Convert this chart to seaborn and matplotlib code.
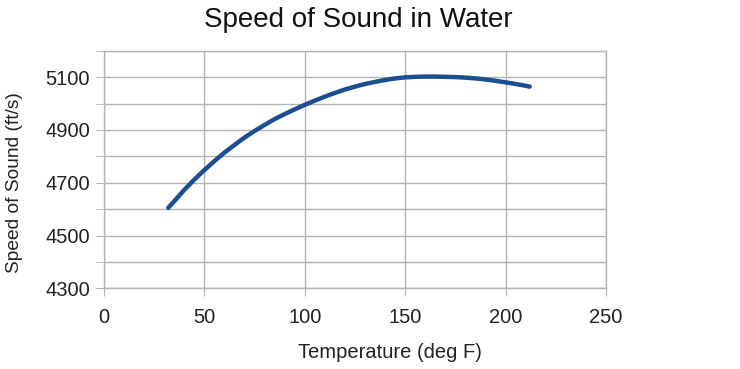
import matplotlib
matplotlib.use("Agg")
import matplotlib.pyplot as plt
import seaborn as sns
import pandas as pd
from matplotlib.ticker import MultipleLocator

temperature_f = [32, 35, 40, 45, 50, 55, 60, 65, 70, 75, 80, 85, 90, 95, 100, 105, 110, 115, 120,
                 125, 130, 135, 140, 145, 150, 155, 160, 165, 170, 175, 180, 185, 190, 195, 200,
                 205, 210, 212]
speed_fts = [4605, 4630, 4673, 4712, 4748, 4782, 4814, 4843, 4871, 4896, 4919, 4941, 4960, 4978, 4995,
             5011, 5026, 5040, 5053, 5064, 5074, 5082, 5089, 5095, 5099, 5101, 5102, 5102, 5101,
             5100, 5098, 5095, 5091, 5086, 5080, 5074, 5067, 5064]

df = pd.DataFrame({"Temperature (deg F)": temperature_f, "Speed of Sound (ft/s)": speed_fts})

sns.set_style("white")
plt.rcParams["font.family"] = ["Liberation Sans", "DejaVu Sans"]

fig = plt.figure(figsize=(7.4, 3.69), dpi=100)
ax = fig.add_axes([104/740, 1 - 288.3/369, (606-104)/740, (288.3-50.7)/369])

sns.lineplot(data=df, x="Temperature (deg F)", y="Speed of Sound (ft/s)", ax=ax,
             color="#1c4f8f", linewidth=3.2, solid_capstyle="round")

ax.set_xlim(0, 250)
ax.set_ylim(4300, 5200)
ax.xaxis.set_major_locator(MultipleLocator(50))
ax.yaxis.set_minor_locator(MultipleLocator(100))
ax.grid(True, which="both", color="#b3b3b3", linewidth=1)
ax.set_axisbelow(True)
for s in ax.spines.values():
    s.set_color("#b3b3b3")
    s.set_linewidth(1)
ax.tick_params(axis="both", which="both", direction="out", length=6, color="#b3b3b3",
               labelsize=14.5, labelcolor="#222222", left=True, bottom=True)
ax.tick_params(axis="y", pad=4)
ax.tick_params(axis="x", pad=8)
ax.set_yticks([4300, 4500, 4700, 4900, 5100])
ax.set_xlabel("Temperature (deg F)", fontsize=14.5, color="#222222")
ax.set_ylabel("Speed of Sound (ft/s)", fontsize=13.8, color="#222222")
ax.xaxis.set_label_coords(0.57, -0.232)
ax.yaxis.set_label_coords(-0.161, 0.445)
fig.text(358/740, 1 - 27/369, "Speed of Sound in Water", fontsize=20, color="#111111",
         ha="center", va="baseline")

fig.savefig("out.png", dpi=100)
